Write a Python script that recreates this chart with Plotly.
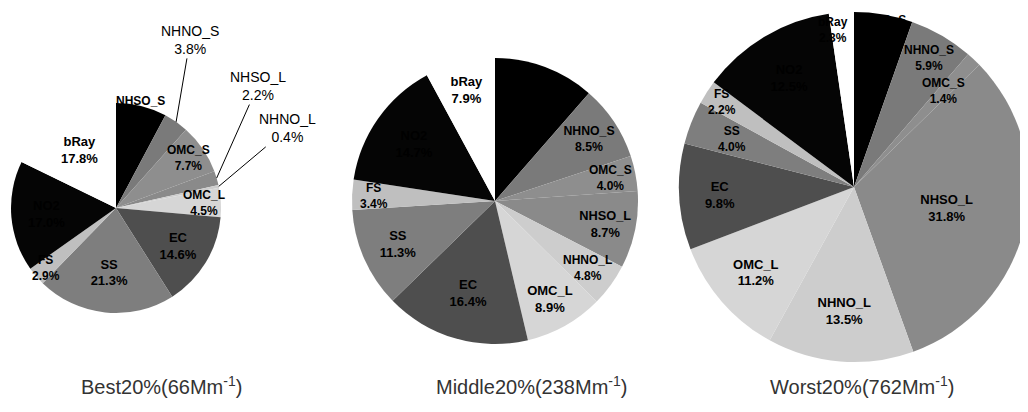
import math
import plotly.graph_objects as go

categories = ["NHSO_S", "NHNO_S", "OMC_S", "NHSO_L", "NHNO_L", "OMC_L",
              "EC", "SS", "FS", "NO2", "bRay"]
best_values = [7.8, 3.8, 7.7, 2.2, 0.4, 4.5, 14.6, 21.3, 2.9, 17.0, 17.8]
middle_values = [11.4, 8.5, 4.0, 8.7, 4.8, 8.9, 16.4, 11.3, 3.4, 14.7, 7.9]
worst_values = [5.4, 5.9, 1.4, 31.8, 13.5, 11.2, 9.8, 4.0, 2.2, 12.5, 2.3]
titles = ["Best20%(66Mm<sup>-1</sup>)", "Middle20%(238Mm<sup>-1</sup>)",
          "Worst20%(762Mm<sup>-1</sup>)"]

slice_colors = ["#000000", "#7a7a7a", "#8e8e8e", "#8a8a8a", "#cdcdcd", "#d6d6d6",
                "#4e4e4e", "#7e7e7e", "#bfbfbf", "#050505", "#ffffff"]

W, H = 1028, 412
OFF = 8  # page body margin
FONT = "Liberation Sans, Arial"

# pie placement (screen px): center x, center y, radius
# label_k: radial position (fraction of radius) for labels of thin slices
# label_dx: small horizontal nudges (px) for those labels
# callouts: label offsets (px) for labels drawn outside with leader lines
pies = [
    dict(values=best_values, geom=(116, 208, 105),
         label_k={"NHSO_S": 0.97, "OMC_S": 0.84, "OMC_L": 0.84, "FS": 0.88},
         label_dx={},
         callouts={"NHNO_S": (14, -82), "NHSO_L": (41, -92), "NHNO_L": (69, -58)}),
    dict(values=middle_values, geom=(495, 201, 143),
         label_k={"OMC_S": 0.82, "NHNO_L": 0.8, "FS": 0.85},
         label_dx={},
         callouts={}),
    dict(values=worst_values, geom=(854, 187, 175),
         label_k={"NHSO_S": 0.92, "NHNO_S": 0.85, "OMC_S": 0.75, "SS": 0.75,
                  "FS": 0.9, "bRay": 0.9},
         label_dx={"bRay": -10},
         callouts={}),
]
title_x = [161, 531, 862]
title_y = 385

fig = go.Figure()
for p in pies:
    values = p["values"]
    cx, cy, r = p["geom"]
    fx, fy = cx - OFF, cy - OFF
    x0 = max(0, (fx - r) / W)
    x1 = min(1, (fx + r) / W)
    y0 = max(0, (H - fy - r) / H)
    y1 = min(1, (H - fy + r) / H)
    templ, pos = [], []
    total = sum(values)
    cum = 0.0
    for c, v in zip(categories, values):
        mid = (cum + v / 2) / total * 2 * math.pi
        cum += v
        if c in p["callouts"]:
            dx, dy = p["callouts"][c]
            ex = fx + r * math.sin(mid)
            ey = fy - r * math.cos(mid)
            templ.append("")
            pos.append("none")
            fig.add_annotation(text="%s<br>%.1f%%" % (c, v),
                               x=ex / W, y=1 - ey / H, xref="paper", yref="paper",
                               ax=dx, ay=dy, showarrow=True, arrowhead=0,
                               arrowwidth=1, arrowcolor="#000000", standoff=0,
                               font=dict(family=FONT, size=14, color="#000000"))
        elif c in p["label_k"]:
            k = p["label_k"][c]
            templ.append("")
            pos.append("none")
            ax = fx + k * r * math.sin(mid)
            ay = fy - k * r * math.cos(mid)
            fig.add_annotation(text="<b>%s<br>%.1f%%</b>" % (c, v),
                               x=ax / W, y=1 - ay / H, xref="paper", yref="paper",
                               xshift=p["label_dx"].get(c, 0),
                               xanchor="center", yanchor="middle", showarrow=False,
                               font=dict(family=FONT, size=12, color="#000000"))
        else:
            templ.append("<b>%{label}<br>%{value:.1f}%</b>")
            pos.append("inside")
    fig.add_trace(go.Pie(
        labels=categories, values=values, sort=False, direction="clockwise",
        rotation=0, domain=dict(x=[x0, x1], y=[y0, y1]),
        marker=dict(colors=slice_colors, line=dict(width=0)),
        texttemplate=templ, textposition=pos,
        insidetextorientation="horizontal",
        textfont=dict(family=FONT, size=13, color="#000000"),
        showlegend=False, hoverinfo="label+value",
    ))

for t, x in zip(titles, title_x):
    fig.add_annotation(text=t, x=(x - OFF) / W, y=1 - (title_y - OFF) / H,
                       xref="paper", yref="paper", xanchor="center", yanchor="middle",
                       showarrow=False,
                       font=dict(family=FONT, size=20, color="#333333"))

fig.update_layout(width=W, height=H, margin=dict(l=0, r=0, t=0, b=0),
                  paper_bgcolor="white", plot_bgcolor="white")
fig.write_html("out.html")
